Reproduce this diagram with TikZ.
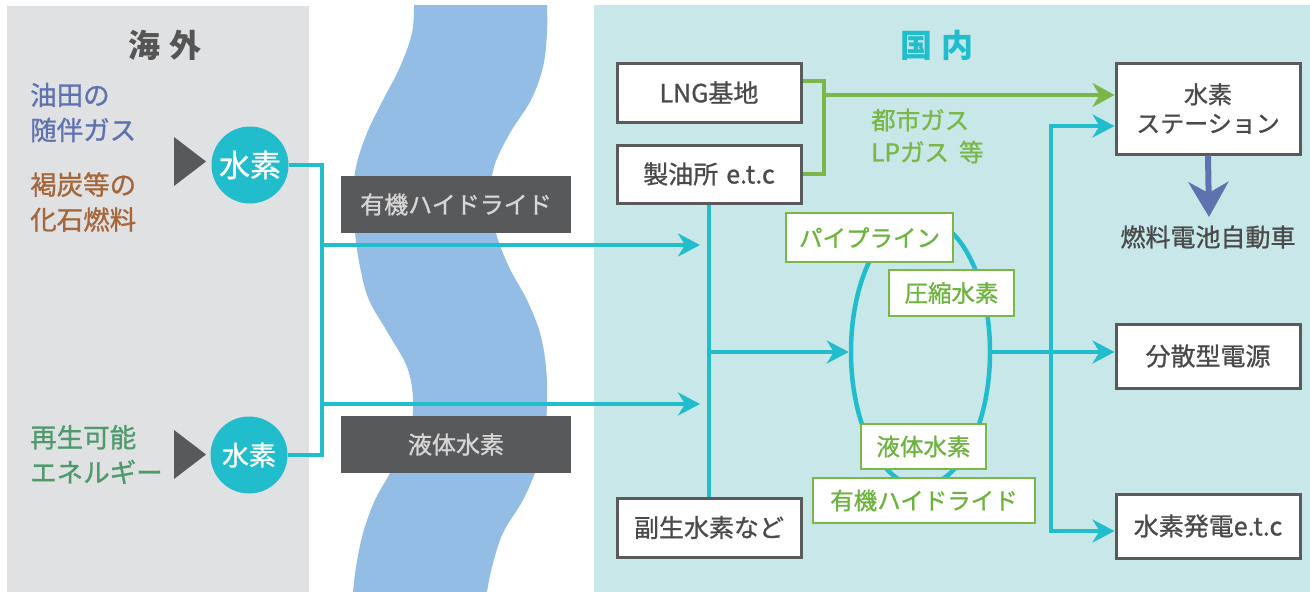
\documentclass[tikz,border=0pt]{standalone}
\usepackage{fontspec}
\setmainfont{Noto Sans CJK JP}[FakeBold=1.0]
\newfontfamily\ttlfont{Noto Sans CJK JP}
\usetikzlibrary{arrows.meta,shapes.geometric}
\definecolor{leftbg}{HTML}{E0E1E3}
\definecolor{rightbg}{HTML}{C8E7E8}
\definecolor{riverc}{HTML}{93BDE4}
\definecolor{hteal}{HTML}{22BDCC}
\definecolor{dgray}{HTML}{58595B}
\definecolor{boxline}{HTML}{5A5A5A}
\definecolor{txtc}{HTML}{4A4A4A}
\definecolor{lgtxt}{HTML}{D6D6D6}
\definecolor{gtxt}{HTML}{6DB33F}
\definecolor{glinec}{HTML}{7AB648}
\definecolor{ttlc}{HTML}{555555}
\definecolor{blueone}{HTML}{5E72B0}
\definecolor{brownone}{HTML}{A4663A}
\definecolor{sgreen}{HTML}{4E9A6B}
\begin{document}
\begin{tikzpicture}[x=1pt,y=-1pt,
  box/.style={draw=boxline, line width=3pt, fill=white, text=txtc, font=\fontsize{25}{29}\selectfont, minimum width=184pt, align=center, inner sep=0pt},
  glab/.style={draw=glinec, line width=2.5pt, fill=white, text=gtxt, font=\fontsize{23.5}{28}\selectfont, inner sep=0pt},
  dbox/.style={fill=dgray, text=lgtxt, font=\fontsize{24}{28}\selectfont, minimum width=230pt, minimum height=57pt, inner sep=0pt},
  hcirc/.style={circle, fill=hteal, text=white, minimum size=77pt, inner sep=0pt},
  ltxt/.style={anchor=west, align=left, inner sep=0pt, font=\fontsize{26.5}{35}\selectfont},
  ttl/.style={font=\ttlfont\bfseries\fontsize{32}{32}\selectfont},
  tline/.style={draw=hteal, line width=4pt},
  tarrow/.style={tline, -{Stealth[length=22pt,width=23pt,inset=7pt]}},
  gline/.style={draw=glinec, line width=4.5pt},
  garrow/.style={gline, -{Stealth[length=22pt,width=24pt,inset=7pt]}},
  barrow/.style={draw=blueone, line width=6pt, -{Stealth[length=35pt,width=40pt,inset=11pt]}}
]
\useasboundingbox (0,0) rectangle (1310,592);
% panels
\fill[leftbg] (7,6) rectangle (309,592);
\fill[rightbg] (594,5) rectangle (1310,592);
% river
\fill[riverc] plot[smooth, tension=0.6] coordinates {(414,5) (412,33) (400,67) (383,100) (367,133) (356,167) (353,200) (355,233) (360,267) (369,300) (388,333) (407,367) (413,400) (409,433) (390,473) (375,500) (363,533) (356,567) (353,592)}
  -- plot[smooth, tension=0.6] coordinates {(487,592) (492,567) (503,533) (523,500) (537,467) (545,433) (547,400) (546,367) (540,333) (527,300) (509,267) (496,233) (491,200) (494,167) (510,133) (531,100) (543,67) (547,33) (547,5)} -- cycle;

% titles
\node[ttl, text=ttlc] (kaigai) at (165,45) {海\hspace{10pt}外};
\node[ttl, text=hteal] (kokunai) at (937,45) {国\hspace{10pt}内};

% left texts
\node[ltxt, text=blueone] (yuden) at (30,112.5) {油田の\\随伴ガス};
\node[ltxt, text=brownone] (kattan) at (30,202) {褐炭等の\\化石燃料};
\node[ltxt, text=sgreen] (saisei) at (30,454.5) {再生可能\\エネルギー};
\fill[dgray] (174,137) -- (206,161.5) -- (174,186) -- cycle;
\fill[dgray] (174,430) -- (206,454.5) -- (174,479) -- cycle;

% hydrogen circles
\node[hcirc, font=\fontsize{31}{31}\selectfont] (h1) at (250,165) {水素};
\node[hcirc, font=\fontsize{27}{27}\selectfont] (h2) at (249,455) {水素};

% boxes
\node[box, minimum height=59pt] (lng) at (709,92.5) {LNG基地};
\node[box, minimum height=58pt] (seiyu) at (709,174) {製油所\hspace{8pt}e.t.c};
\node[box, minimum height=59pt] (fuku) at (709,527.5) {副生水素など};
\node[box, minimum height=91pt, font=\fontsize{24}{29}\selectfont] (st) at (1208,108.5) {水素\\ステーション};
\node[box, minimum height=64pt] (bunsan) at (1208,356) {分散型電源};
\node[box, minimum height=64pt] (hatsu) at (1208,526) {水素発電e.t.c};
\node[text=txtc, font=\fontsize{25}{29}\selectfont, inner sep=0pt] (fcv) at (1208,237) {燃料電池自動車};

% teal connectors (left)
\coordinate (ja) at (322,165);
\coordinate (jb) at (322,455);
\draw[tline] (h1.east) -- (ja) -- (jb) -- (h2.east);
\coordinate (a1s) at (322,245);
\coordinate (a1e) at (700,245);
\coordinate (a2s) at (322,404);
\coordinate (a2e) at (700,404);
\draw[tarrow] (a1s) -- (a1e);
\draw[tarrow] (a2s) -- (a2e);

% gray transport boxes
\node[dbox] (hyd) at (456,204.5) {有機ハイドライド};
\node[dbox] (liq) at (456,444.5) {液体水素};

% domestic teal network
\draw[tline] (seiyu.south) -- (fuku.north);
\coordinate (m) at (709,352);
\node[ellipse, draw=hteal, line width=4.5pt, minimum width=139pt, minimum height=268pt, inner sep=0pt] (ell) at (920.5,352) {};
\draw[tarrow] (m) -- (ell.west);
\draw[tarrow] (ell.east) -- (ell.east -| bunsan.west);
\coordinate (r1) at (1051,126);
\coordinate (r2) at (1051,531);
\draw[tarrow] (r2) -- (r1) -- (r1 -| st.west);
\draw[tarrow, line cap=rect] (r2) -- (r2 -| hatsu.west);

% green gas connectors
\coordinate (g2) at (824,81);
\coordinate (g3) at (824,174);
\coordinate (gm) at (824,95);
\draw[gline] (g2 -| lng.east) -- (g2) -- (g3) -- (seiyu.east);
\draw[garrow] (gm) -- (gm -| st.west);
\node[anchor=west, align=left, inner sep=0pt, text=glinec, font=\fontsize{24.5}{32}\selectfont] (toshi) at (871,136) {都市ガス\\LPガス\hspace{10pt}等};

% blue arrow
\coordinate (bt) at (1209,217);
\draw[barrow] (st.south) -- (bt);

% green labels
\node[glab, minimum width=167pt, minimum height=49pt] (pipe) at (869.5,237.5) {パイプライン};
\node[glab, minimum width=125pt, minimum height=46pt] (assh) at (951.5,293) {圧縮水素};
\node[glab, minimum width=125pt, minimum height=45pt] (ekit) at (923.5,446.5) {液体水素};
\node[glab, minimum width=222pt, minimum height=45pt] (yuki) at (924,500.5) {有機ハイドライド};
\end{tikzpicture}
\end{document}
